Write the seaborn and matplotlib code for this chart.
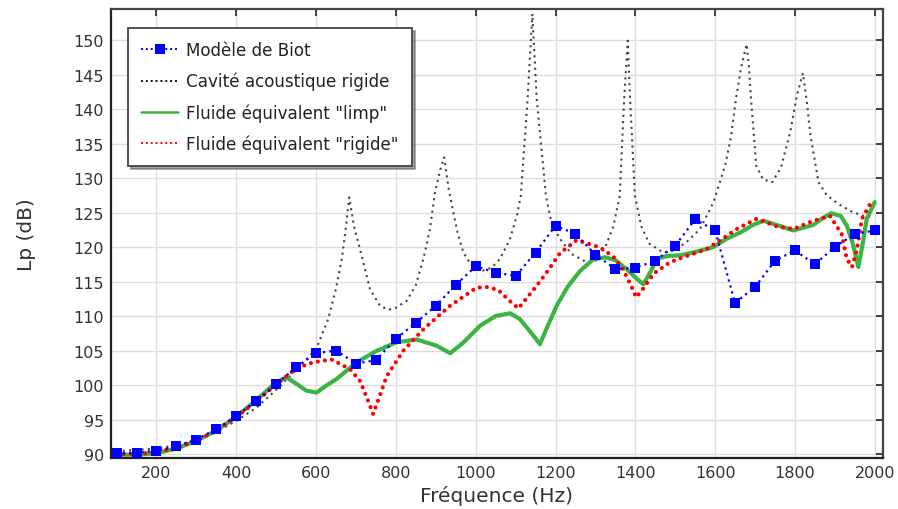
import matplotlib
matplotlib.use("Agg")
import matplotlib.pyplot as plt
import seaborn as sns
import pandas as pd
from matplotlib.lines import Line2D

# ---- data ----
biot_f = [100, 150, 200, 250, 300, 350, 400, 450, 500, 550, 600, 650, 700, 750, 800, 850, 900, 950,
          1000, 1050, 1100, 1150, 1200, 1250, 1300, 1350, 1400, 1450, 1500, 1550, 1600, 1650, 1700,
          1750, 1800, 1850, 1900, 1950, 2000]
biot_lp = [90.1, 90.2, 90.5, 91.1, 92.1, 93.6, 95.5, 97.7, 100.1, 102.6, 104.6, 105.0, 103.1, 103.6,
           106.7, 109.0, 111.5, 114.5, 117.2, 116.3, 115.8, 119.2, 123.1, 121.9, 118.9, 116.8, 117.0,
           118.0, 120.2, 124.0, 122.4, 111.9, 114.2, 118.0, 119.5, 117.5, 120.0, 121.9, 122.4]

cav_f = [100, 150, 200, 250, 300, 350, 400, 450, 500, 550, 600, 630, 650, 665, 675, 683, 695, 710,
         735, 760, 781, 800, 827, 850, 869, 885, 898, 910, 921, 932, 944, 955, 969, 990, 1019, 1040,
         1061, 1085, 1103, 1113, 1130, 1142, 1153, 1176, 1190, 1211, 1240, 1278, 1300, 1325, 1345,
         1361, 1372, 1381, 1387, 1399, 1415, 1435, 1470, 1500, 1530, 1562, 1596, 1625, 1640, 1652,
         1665, 1679, 1685, 1690, 1696, 1703, 1720, 1743, 1765, 1788, 1805, 1820, 1830, 1838, 1859,
         1880, 1910, 1940, 1972, 1990]
cav_lp = [90.4, 90.6, 90.8, 91.3, 92.0, 93.2, 94.8, 96.7, 99.3, 102.2, 105.2, 109.5, 114.0, 118.5,
          123.0, 127.2, 123.0, 119.7, 113.9, 111.5, 110.9, 111.2, 112.2, 114.5, 118.3, 122.5, 127.9,
          131.0, 133.0, 128.5, 125.0, 122.0, 119.2, 117.3, 116.6, 117.0, 118.3, 121.0, 124.5, 127.4,
          141.4, 153.8, 141.4, 127.4, 123.5, 121.2, 119.0, 117.8, 118.0, 120.0, 123.0, 127.4, 141.4,
          149.9, 141.4, 127.4, 123.0, 120.5, 119.2, 119.5, 120.8, 122.6, 126.5, 131.8, 136.0, 141.4,
          146.0, 149.4, 146.0, 141.4, 137.0, 131.8, 129.8, 129.4, 131.5, 136.6, 142.0, 145.2, 141.0,
          136.6, 129.4, 127.5, 126.2, 125.2, 124.5, 124.3]

limp_f = [100, 150, 200, 250, 300, 350, 400, 450, 500, 526, 550, 575, 601, 625, 652, 702, 750, 802,
          852, 902, 936, 970, 1011, 1050, 1086, 1110, 1140, 1161, 1180, 1203, 1230, 1261, 1294, 1325,
          1350, 1378, 1400, 1420, 1440, 1454, 1480, 1513, 1545, 1596, 1629, 1663, 1695, 1721, 1760,
          1796, 1846, 1870, 1891, 1915, 1930, 1945, 1959, 1970, 1980, 2000]
limp_lp = [89.9, 89.9, 90.1, 90.8, 91.9, 93.4, 95.4, 97.8, 100.4, 101.1, 100.2, 99.2, 98.9, 99.9,
           100.9, 103.3, 104.9, 106.2, 106.6, 105.7, 104.6, 106.2, 108.6, 110.0, 110.4, 109.6, 107.5,
           105.9, 108.5, 111.5, 114.2, 116.5, 118.2, 118.5, 118.1, 116.8, 115.6, 114.6, 116.6, 118.3,
           118.7, 118.8, 119.2, 120.0, 121.2, 122.1, 123.2, 123.8, 123.1, 122.4, 123.2, 124.2, 124.9,
           124.5, 123.1, 120.5, 117.1, 120.5, 124.1, 126.5]

rig_f = [100, 150, 200, 250, 300, 350, 400, 450, 500, 550, 593, 639, 685, 710, 727, 743, 760, 777,
         819, 869, 936, 1002, 1027, 1056, 1085, 1107, 1153, 1180, 1211, 1253, 1298, 1318, 1345, 1369,
         1391, 1402, 1420, 1445, 1487, 1529, 1579, 1629, 1654, 1704, 1754, 1796, 1846, 1888, 1917,
         1930, 1943, 1955, 1968, 1993]
rig_lp = [90.0, 90.0, 90.3, 90.9, 91.9, 93.4, 95.4, 97.6, 100.1, 102.4, 103.3, 103.7, 102.3, 100.6,
          98.2, 95.8, 98.5, 101.3, 105.0, 108.1, 111.5, 114.1, 114.2, 113.8, 112.2, 111.1, 114.4,
          116.5, 119.1, 121.0, 120.2, 119.7, 118.6, 116.8, 114.2, 112.7, 114.0, 116.1, 117.8, 118.7,
          119.7, 121.6, 122.6, 124.1, 123.0, 122.6, 123.8, 124.5, 121.9, 118.3, 117.1, 119.5, 124.1,
          126.7]

labels = ["Modèle de Biot", "Cavité acoustique rigide",
          'Fluide équivalent "limp"', 'Fluide équivalent "rigide"']
xticks = list(range(200, 2001, 200))
yticks = list(range(90, 151, 5))

# ---- style ----
sns.set_style("white")
plt.rcParams['font.family'] = ['DejaVu Sans']

BLUE = "#0000ff"
BLACK = "#444444"
GREEN = "#3cb443"
RED = "#ff0000"

fig = plt.figure(figsize=(8.98, 5.10), dpi=100)
ax = fig.add_axes([111 / 898, 51 / 510, (882.7 - 111) / 898, (459 - 10) / 510])

df_cav = pd.DataFrame({"f": cav_f, "lp": cav_lp})
df_biot = pd.DataFrame({"f": biot_f, "lp": biot_lp})
df_limp = pd.DataFrame({"f": limp_f, "lp": limp_lp})
df_rig = pd.DataFrame({"f": rig_f, "lp": rig_lp})

sns.lineplot(data=df_cav, x="f", y="lp", ax=ax, sort=False, color=BLACK, linewidth=1.5,
             linestyle=(0, (1, 2.0)), zorder=3)
sns.lineplot(data=df_limp, x="f", y="lp", ax=ax, sort=False, color=GREEN, linewidth=3.0,
             zorder=4, solid_capstyle="round", solid_joinstyle="round")
sns.lineplot(data=df_rig, x="f", y="lp", ax=ax, sort=False, color=RED, linewidth=3.0,
             linestyle=(0, (0.01, 1.7)), dash_capstyle="round", zorder=5)
sns.lineplot(data=df_biot, x="f", y="lp", ax=ax, sort=False, color=BLUE, linewidth=1.6,
             linestyle=(0, (1, 1.8)), marker="s", markersize=7, markeredgewidth=0,
             markerfacecolor=BLUE, zorder=6)

ax.set_xlim(86, 2020)
ax.set_ylim(89.42, 154.5)
ax.set_xticks(xticks)
ax.set_yticks(yticks)
ax.grid(True, color="#dddddd", linewidth=1.0, zorder=0)
ax.set_axisbelow(True)

for side in ["left", "bottom"]:
    ax.spines[side].set_color("#222222")
    ax.spines[side].set_linewidth(1.6)
for side in ["right", "top"]:
    ax.spines[side].set_color("#444444")
    ax.spines[side].set_linewidth(1.6)
ax.tick_params(axis="both", which="both", direction="in", length=5, width=1.2,
               top=True, right=True, colors="#222222", labelsize=11.5, labelcolor="#333333",
               pad=5)

ax.set_xlabel("Fréquence (Hz)", fontsize=14.5, color="#333333", labelpad=4)
ax.set_ylabel("Lp (dB)", fontsize=14.5, color="#333333", labelpad=27)

handles = [
    Line2D([], [], color=BLUE, linewidth=1.4, linestyle=(0, (1, 1.5)), marker="s",
           markersize=7, markeredgewidth=0),
    Line2D([], [], color="#111111", linewidth=1.4, linestyle=(0, (1, 1.5))),
    Line2D([], [], color=GREEN, linewidth=1.8),
    Line2D([], [], color=RED, linewidth=1.4, linestyle=(0, (1, 1.5))),
]
leg = ax.legend(handles, labels, loc="upper left", bbox_to_anchor=(0.022, 0.958),
                frameon=True, fancybox=False, shadow=True, edgecolor="#444444",
                fontsize=12.1, handlelength=2.2, handletextpad=0.45, labelspacing=0.75,
                borderpad=0.8, borderaxespad=0.0, framealpha=1.0)
leg.get_frame().set_linewidth(1.3)
for t in leg.get_texts():
    t.set_color("#222222")

fig.savefig("out.png", dpi=100)
